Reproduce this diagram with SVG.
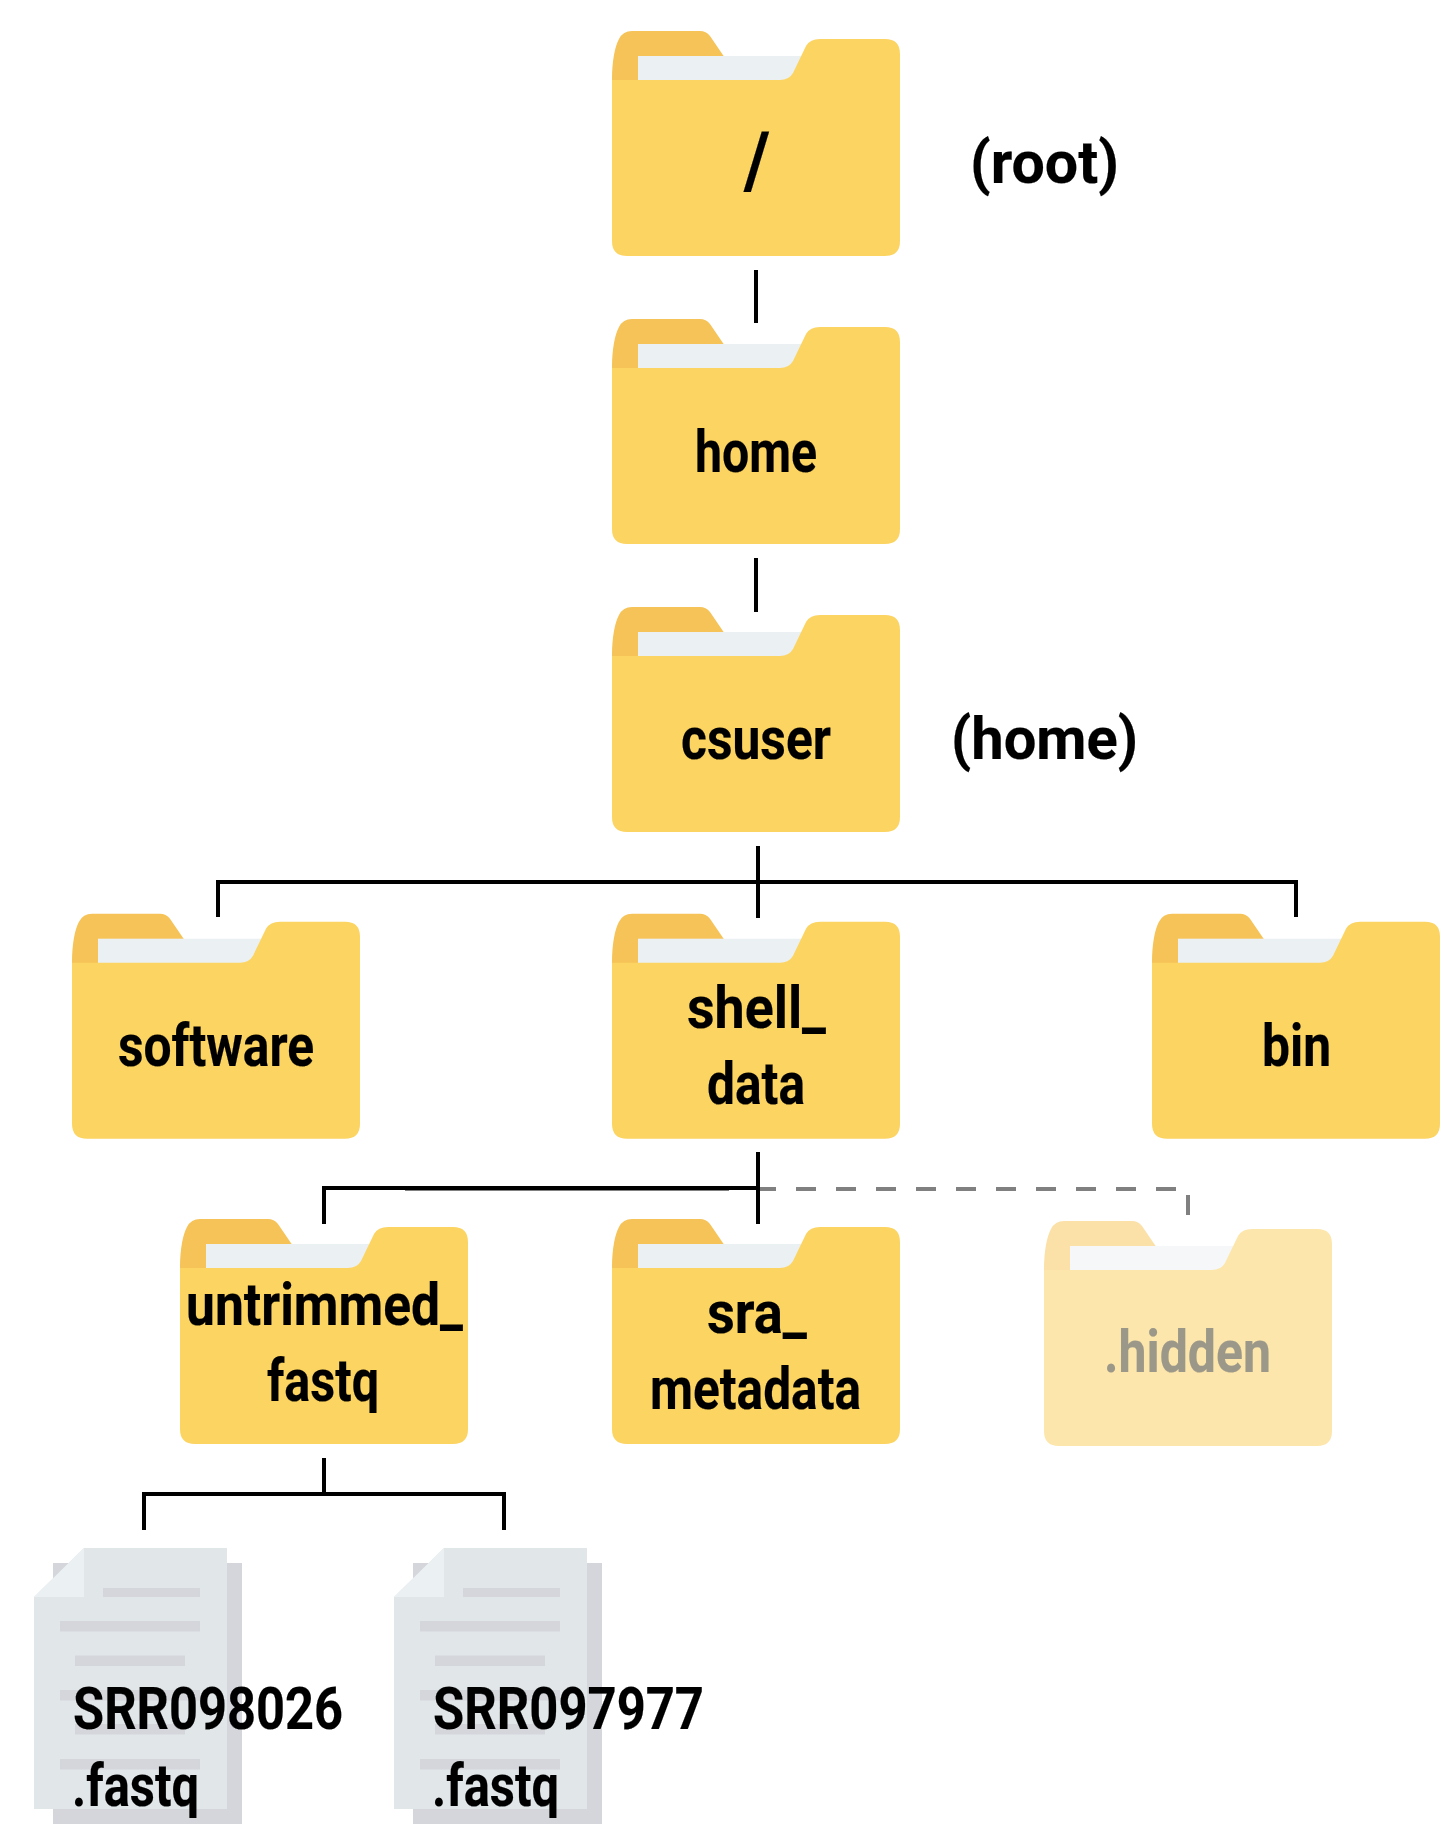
<svg xmlns="http://www.w3.org/2000/svg" width="1440" height="1824" viewBox="0 0 1440 1824">
<style>
text{font-family:Roboto,"Liberation Sans",sans-serif;font-size:60px;font-weight:700;fill:#000;stroke:#000;stroke-width:.2;}
.h{fill:#9b9889;stroke:#9b9889;}
.big{font-size:78px;}
.c{fill:none;stroke:#000;stroke-width:4;}
.d{fill:none;stroke:#808080;stroke-width:4;}
.tab{fill:#f6c358}.paper{fill:#ebf0f3}.body{fill:#fcd462}
.htab{fill:#fbe1a8}.hpaper{fill:#f5f7f8}.hbody{fill:#fde6ab}
.back{fill:#d5d6db}.front{fill:#e1e6e9}.fold{fill:#ebf0f3}
</style>
<defs>
<path id="ftab" d="M0 49C0 30 3 15 7 8Q11 0 20 0H88Q94 0 98 5L113 27V60H0Z"/>
<rect id="fpaper" x="26" y="25" width="190" height="30"/>
<path id="fbody" d="M0 49H168Q177 49 181 42L194 15Q198 8 208 8H273Q288 8 288 23V210Q288 225 273 225H15Q0 225 0 210Z"/>
<g id="doc">
<rect class="back" x="19" y="15" width="189" height="261"/>
<path class="front" d="M50 0H193V261H0V49Z"/>
<path class="fold" d="M50 0V49H0Z"/>
<g class="back">
<rect x="69" y="40" width="97" height="9"/>
<rect x="26" y="73" width="140" height="10.500"/>
<rect x="41" y="107.500" width="110" height="10.500"/>
<rect x="26" y="142" width="140" height="10.500"/>
<rect x="41" y="176" width="110" height="10.500"/>
<rect x="26" y="211" width="140" height="10.500"/>
</g>
</g>
</defs>

<g id="connectors">
<path class="c" d="M756 270V323M756 558V612"/>
<path class="c" d="M758 846V918M218 917V882H1296V917"/>
<path class="d" d="M758 1189H776M796 1189H1176" stroke-dasharray="20 20"/>
<path class="d" d="M405 1189H729"/>
<path class="d" d="M1188 1195V1215"/>
<path class="c" d="M324 1224V1188H758M758 1152V1224"/>
<path class="c" d="M324 1458V1494M144 1530V1494H504V1530"/>
</g>

<g id="root"><g transform="translate(612 31)"><use href="#ftab" class="tab"/><use href="#fpaper" class="paper"/><use href="#fbody" class="body"/></g>
<text class="big" x="744" y="187" textLength="26" lengthAdjust="spacingAndGlyphs">/</text></g>
<g id="root-label"><text x="970" y="183" textLength="149" lengthAdjust="spacingAndGlyphs">(root)</text></g>

<g id="home"><g transform="translate(612 319)"><use href="#ftab" class="tab"/><use href="#fpaper" class="paper"/><use href="#fbody" class="body"/></g>
<text x="695" y="472" textLength="122" lengthAdjust="spacingAndGlyphs">home</text></g>

<g id="csuser"><g transform="translate(612 607)"><use href="#ftab" class="tab"/><use href="#fpaper" class="paper"/><use href="#fbody" class="body"/></g>
<text x="681" y="759" textLength="150" lengthAdjust="spacingAndGlyphs">csuser</text></g>
<g id="home-label"><text x="951" y="759" textLength="187" lengthAdjust="spacingAndGlyphs">(home)</text></g>

<g id="software"><g transform="translate(72 913.700)"><use href="#ftab" class="tab"/><use href="#fpaper" class="paper"/><use href="#fbody" class="body"/></g>
<text x="118" y="1066" textLength="196" lengthAdjust="spacingAndGlyphs">software</text></g>

<g id="shell_data"><g transform="translate(612 913.700)"><use href="#ftab" class="tab"/><use href="#fpaper" class="paper"/><use href="#fbody" class="body"/></g>
<text x="687" y="1028" textLength="139" lengthAdjust="spacingAndGlyphs">shell_</text>
<text x="707" y="1104" textLength="98" lengthAdjust="spacingAndGlyphs">data</text></g>

<g id="bin"><g transform="translate(1152 913.700)"><use href="#ftab" class="tab"/><use href="#fpaper" class="paper"/><use href="#fbody" class="body"/></g>
<text x="1262" y="1066" textLength="69" lengthAdjust="spacingAndGlyphs">bin</text></g>

<g id="untrimmed_fastq"><g transform="translate(180 1219)"><use href="#ftab" class="tab"/><use href="#fpaper" class="paper"/><use href="#fbody" class="body"/></g>
<text x="186" y="1325" textLength="277" lengthAdjust="spacingAndGlyphs">untrimmed_</text>
<text x="267" y="1401" textLength="112" lengthAdjust="spacingAndGlyphs">fastq</text></g>

<g id="sra_metadata"><g transform="translate(612 1219)"><use href="#ftab" class="tab"/><use href="#fpaper" class="paper"/><use href="#fbody" class="body"/></g>
<text x="707" y="1333" textLength="100" lengthAdjust="spacingAndGlyphs">sra_</text>
<text x="650" y="1409" textLength="211" lengthAdjust="spacingAndGlyphs">metadata</text></g>

<g id="hidden"><g transform="translate(1044 1221)"><use href="#ftab" class="htab"/><use href="#fpaper" class="hpaper"/><use href="#fbody" class="hbody"/></g>
<text class="h" x="1104" y="1372" textLength="167" lengthAdjust="spacingAndGlyphs">.hidden</text></g>

<g id="SRR098026"><use href="#doc" x="34" y="1548"/>
<text x="73" y="1729" textLength="270" lengthAdjust="spacingAndGlyphs">SRR098026</text>
<text x="72" y="1806" textLength="127" lengthAdjust="spacingAndGlyphs">.fastq</text></g>

<g id="SRR097977"><use href="#doc" x="394" y="1548"/>
<text x="433" y="1729" textLength="271" lengthAdjust="spacingAndGlyphs">SRR097977</text>
<text x="432" y="1806" textLength="127" lengthAdjust="spacingAndGlyphs">.fastq</text></g>
</svg>
